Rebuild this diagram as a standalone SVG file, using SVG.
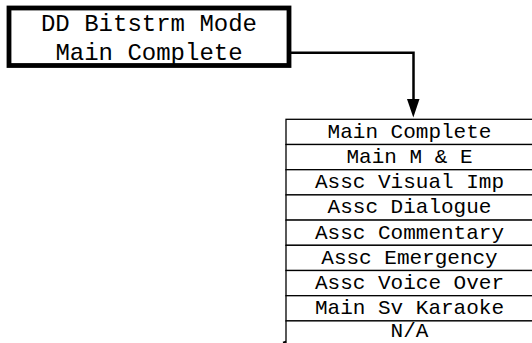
<svg xmlns="http://www.w3.org/2000/svg" width="532" height="343" viewBox="0 0 532 343">
<style>
.t{font-family:"Liberation Mono","Courier New",monospace;fill:#000;text-anchor:middle}
.big{font-size:24px}
.sm{font-size:21px}
.row{fill:#fff;stroke:#000;stroke-width:1.3}
.ln{fill:none;stroke:#000}
</style>
<rect width="532" height="343" fill="#fff"/>
<g id="connectors">
<path class="ln" d="M271,52.8 H413.5 V99" stroke-width="2.5"/>
<path d="M407,99 L419.5,99 L413.3,117.5 Z" fill="#000"/>
<line class="ln" x1="283" y1="342.6" x2="315.5" y2="332.3" stroke-width="2"/>
</g>
<g id="mode">
<rect x="9" y="8" width="280" height="57.5" fill="#fff" stroke="#000" stroke-width="4.8"/>
<text class="t big" x="149" y="31">DD Bitstrm Mode</text>
<text class="t big" x="149" y="60">Main Complete</text>
</g>
<g id="list">
<rect class="row" x="286" y="119.3" width="250" height="25.2"/>
<rect class="row" x="286" y="144.5" width="250" height="25.2"/>
<rect class="row" x="286" y="169.7" width="250" height="25.2"/>
<rect class="row" x="286" y="194.9" width="250" height="25.2"/>
<rect class="row" x="286" y="220.1" width="250" height="25.2"/>
<rect class="row" x="286" y="245.3" width="250" height="25.2"/>
<rect class="row" x="286" y="270.5" width="250" height="25.2"/>
<rect class="row" x="286" y="295.7" width="250" height="25.2"/>
<rect class="row" x="286" y="320.9" width="250" height="25.2"/>
<text class="t sm" x="409.5" y="137.8">Main Complete</text>
<text class="t sm" x="409.5" y="163">Main M &amp; E</text>
<text class="t sm" x="409.5" y="188.2">Assc Visual Imp</text>
<text class="t sm" x="409.5" y="213.4">Assc Dialogue</text>
<text class="t sm" x="409.5" y="238.6">Assc Commentary</text>
<text class="t sm" x="409.5" y="263.8">Assc Emergency</text>
<text class="t sm" x="409.5" y="289">Assc Voice Over</text>
<text class="t sm" x="409.5" y="314.2">Main Sv Karaoke</text>
<text class="t sm" x="409.5" y="336.5">N/A</text>
</g>
</svg>
